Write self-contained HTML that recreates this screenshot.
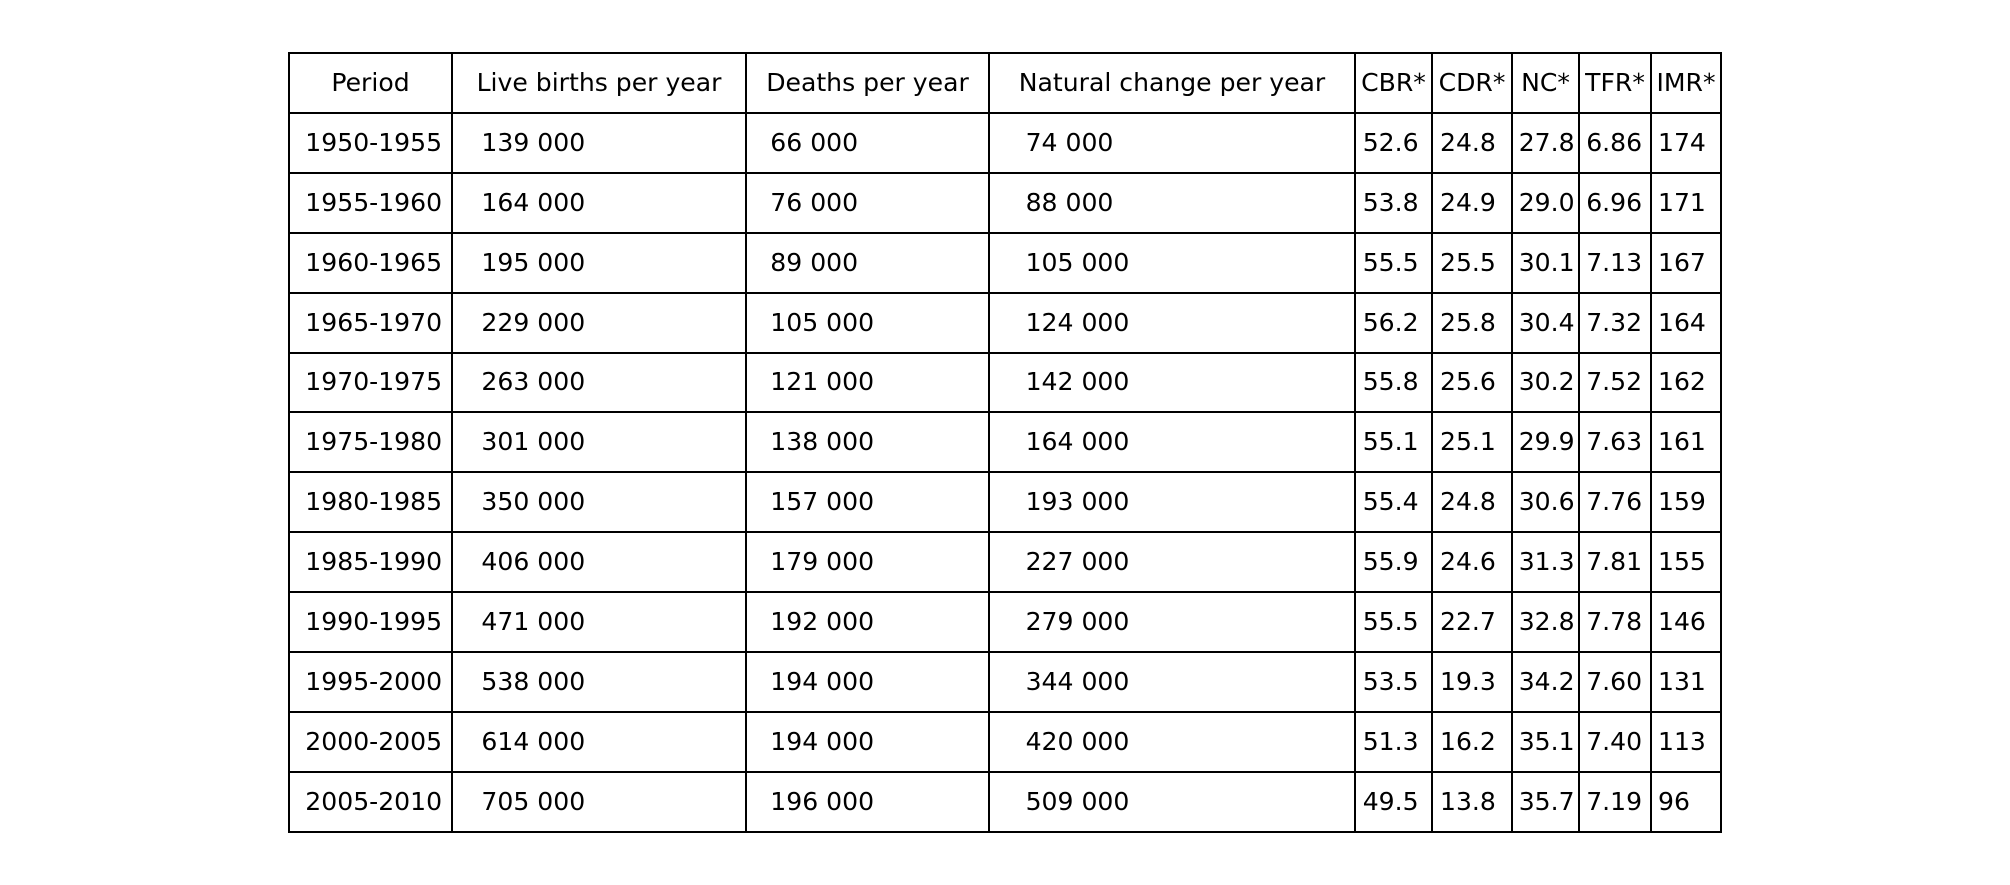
<!DOCTYPE html>
<html><head><meta charset="utf-8">
<style>
html,body{margin:0;padding:0;background:#fff;}
#wrap{position:relative;width:2010px;height:885px;overflow:hidden;font-family:"DejaVu Sans","Liberation Sans",sans-serif;font-size:25.1px;color:#000;}
.cell{position:absolute;box-sizing:border-box;border:2px solid #000;display:flex;align-items:center;white-space:nowrap;padding-bottom:2px;}
</style></head>
<body>
<div id="wrap"></div>
<script>
const headers = ["Period","Live births per year","Deaths per year","Natural change per year","CBR*","CDR*","NC*","TFR*","IMR*"];
const periods = ["1950-1955","1955-1960","1960-1965","1965-1970","1970-1975","1975-1980","1980-1985","1985-1990","1990-1995","1995-2000","2000-2005","2005-2010"];
const births = ["139 000","164 000","195 000","229 000","263 000","301 000","350 000","406 000","471 000","538 000","614 000","705 000"];
const deaths = ["66 000","76 000","89 000","105 000","121 000","138 000","157 000","179 000","192 000","194 000","194 000","196 000"];
const natural = ["74 000","88 000","105 000","124 000","142 000","164 000","193 000","227 000","279 000","344 000","420 000","509 000"];
const cbr = ["52.6","53.8","55.5","56.2","55.8","55.1","55.4","55.9","55.5","53.5","51.3","49.5"];
const cdr = ["24.8","24.9","25.5","25.8","25.6","25.1","24.8","24.6","22.7","19.3","16.2","13.8"];
const nc = ["27.8","29.0","30.1","30.4","30.2","29.9","30.6","31.3","32.8","34.2","35.1","35.7"];
const tfr = ["6.86","6.96","7.13","7.32","7.52","7.63","7.76","7.81","7.78","7.60","7.40","7.19"];
const imr = ["174","171","167","164","162","161","159","155","146","131","113","96"];
const colX = [288,451,745,988,1354,1431,1511,1578,1650,1720];
const top0 = 52, rowH = 59.9;
const cols = [periods,births,deaths,natural,cbr,cdr,nc,tfr,imr];
const names = ["period","live-births","deaths","natural-change","cbr","cdr","nc","tfr","imr"];
const wrap = document.getElementById('wrap');
function mk(r,c,text){
  const d = document.createElement('div');
  d.className='cell';
  const x=colX[c], w=colX[c+1]-colX[c];
  const y0=Math.round(top0+r*rowH), y1=Math.round(top0+(r+1)*rowH);
  d.style.left=x+'px'; d.style.top=y0+'px';
  d.style.width=(w+2)+'px'; d.style.height=(y1-y0+2)+'px';
  if(r===0){d.style.justifyContent='center';}
  else{d.style.paddingLeft=(0.1*w-1)+'px';}
  d.textContent=text;
  return d;
}
for(let c=0;c<headers.length;c++){
  const h=mk(0,c,headers[c]);
  
  
  wrap.appendChild(h);
  for(let r=0;r<periods.length;r++){
    const d=mk(r+1,c,cols[c][r]);
    
    
    wrap.appendChild(d);
  }
}
</script>
</body></html>
